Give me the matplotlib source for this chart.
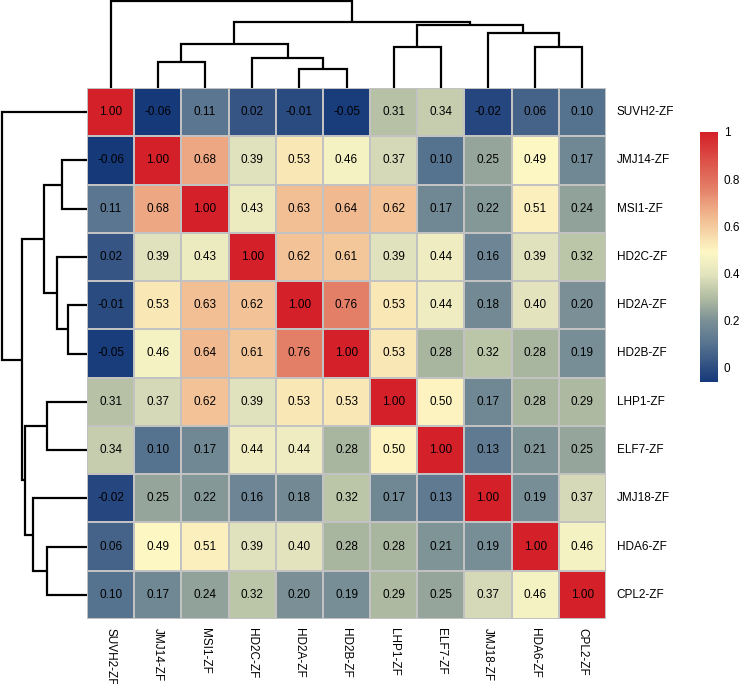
import numpy as np
import matplotlib
matplotlib.use("Agg")
import matplotlib.pyplot as plt
from matplotlib.colors import LinearSegmentedColormap

plt.rcParams['font.family'] = ['Liberation Sans', 'DejaVu Sans']

genes = ["SUVH2-ZF", "JMJ14-ZF", "MSI1-ZF", "HD2C-ZF", "HD2A-ZF", "HD2B-ZF",
         "LHP1-ZF", "ELF7-ZF", "JMJ18-ZF", "HDA6-ZF", "CPL2-ZF"]

corr = np.array([
    [1.00, -0.06, 0.11, 0.02, -0.01, -0.05, 0.31, 0.34, -0.02, 0.06, 0.10],
    [-0.06, 1.00, 0.68, 0.39, 0.53, 0.46, 0.37, 0.10, 0.25, 0.49, 0.17],
    [0.11, 0.68, 1.00, 0.43, 0.63, 0.64, 0.62, 0.17, 0.22, 0.51, 0.24],
    [0.02, 0.39, 0.43, 1.00, 0.62, 0.61, 0.39, 0.44, 0.16, 0.39, 0.32],
    [-0.01, 0.53, 0.63, 0.62, 1.00, 0.76, 0.53, 0.44, 0.18, 0.40, 0.20],
    [-0.05, 0.46, 0.64, 0.61, 0.76, 1.00, 0.53, 0.28, 0.32, 0.28, 0.19],
    [0.31, 0.37, 0.62, 0.39, 0.53, 0.53, 1.00, 0.50, 0.17, 0.28, 0.29],
    [0.34, 0.10, 0.17, 0.44, 0.44, 0.28, 0.50, 1.00, 0.13, 0.21, 0.25],
    [-0.02, 0.25, 0.22, 0.16, 0.18, 0.32, 0.17, 0.13, 1.00, 0.19, 0.37],
    [0.06, 0.49, 0.51, 0.39, 0.40, 0.28, 0.28, 0.21, 0.19, 1.00, 0.46],
    [0.10, 0.17, 0.24, 0.32, 0.20, 0.19, 0.29, 0.25, 0.37, 0.46, 1.00],
])

# cluster merges (left node, right node, height); leaves 0..10, merges numbered from 11
merges = [
    (4, 5, 0.22),
    (1, 2, 0.30),
    (3, 11, 0.35),
    (6, 7, 0.47),
    (9, 10, 0.47),
    (12, 13, 0.51),
    (8, 15, 0.635),
    (14, 17, 0.725),
    (16, 18, 0.765),
    (0, 19, 1.0),
]

cbar_ticks = [0, 0.2, 0.4, 0.6, 0.8, 1]
cbar_labels = ["0", "0.2", "0.4", "0.6", "0.8", "1"]

vmin, vmax = -0.06, 1.0
# colour anchors (value, colour)
anchor_vals = [-0.06, 0.11, 0.21, 0.29, 0.39, 0.49, 0.63, 0.76, 1.0]
anchor_cols = ["#16397a", "#5a7690", "#7f9497", "#adb9a0", "#e0e2bd",
               "#fdf7c4", "#f2bf94", "#e48068", "#d42028"]
cmap = LinearSegmentedColormap.from_list(
    "bgr", [((v - vmin) / (vmax - vmin), c) for v, c in zip(anchor_vals, anchor_cols)])

W, H = 740, 684
fig = plt.figure(figsize=(W / 100, H / 100), dpi=100)

def fr(x0, y0, x1, y1):
    # pixel box -> figure fraction rect
    return [x0 / W, 1 - y1 / H, (x1 - x0) / W, (y1 - y0) / H]

n = len(genes)
ax = fig.add_axes(fr(87, 88, 606, 619))
mesh = ax.pcolormesh(np.arange(n + 1), np.arange(n + 1), corr, cmap=cmap,
                     vmin=vmin, vmax=vmax, edgecolors="#c2c2c2", linewidth=1.4)
ax.set_xlim(0, n)
ax.set_ylim(n, 0)
for i in range(n):
    for j in range(n):
        ax.text(j + 0.5, i + 0.5, "%.2f" % corr[i, j], ha="center", va="center",
                fontsize=8.5, color="black")
ax.set_xticks([])
ax.set_yticks([])
for s in ax.spines.values():
    s.set_visible(False)
for i, g in enumerate(genes):
    ax.text(n + 0.23, i + 0.5, g, ha="left", va="center", fontsize=8.5)
    ax.text(i + 0.5, n + 0.18, g, ha="center", va="top", rotation=270,
            fontsize=8.5)

# dendrograms
pos = {i: i + 0.5 for i in range(n)}
hgt = {i: 0.0 for i in range(n)}
segs = []
for k, (a, b, h) in enumerate(merges):
    node = n + k
    segs.append((pos[a], hgt[a], pos[b], hgt[b], h))
    pos[node] = (pos[a] + pos[b]) / 2
    hgt[node] = h

axt = fig.add_axes(fr(87, 0, 606, 88))
axl = fig.add_axes(fr(0, 88, 87, 619))
for xa, ha, xb, hb, h in segs:
    axt.plot([xa, xa, xb, xb], [ha, h, h, hb], color="black", lw=1.6,
             solid_joinstyle="miter", solid_capstyle="butt")
    axl.plot([ha, h, h, hb], [xa, xa, xb, xb], color="black", lw=1.6,
             solid_joinstyle="miter", solid_capstyle="butt")
axt.set_xlim(0, n)
axt.set_ylim(0, 1.014)
axl.set_ylim(n, 0)
axl.set_xlim(1.025, 0)
for a in (axt, axl):
    a.axis("off")

# colour legend
cax = fig.add_axes(fr(700, 132, 718, 382))
cb = fig.colorbar(mesh, cax=cax, ticks=cbar_ticks)
cb.outline.set_visible(False)
cb.ax.set_yticklabels(cbar_labels)
cb.ax.tick_params(length=0, labelsize=8.5, pad=4)

fig.savefig("out.png", dpi=100)
